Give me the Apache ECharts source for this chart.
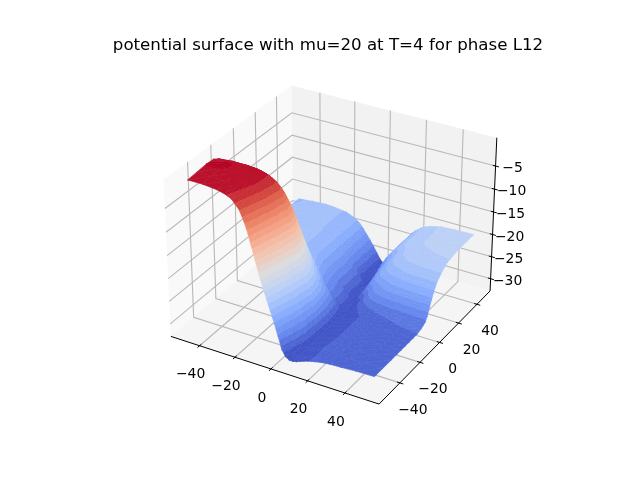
<!DOCTYPE html>
<html><head><meta charset="utf-8">
<style>html,body{margin:0;padding:0;background:#fff}#c{width:640px;height:480px}</style>
<script src="https://cdn.jsdelivr.net/npm/echarts@6/dist/echarts.min.js"></script>
</head><body><div id="c"></div>
<script>
const titleText = 'potential surface with mu=20 at T=4 for phase L12';
const xTicks = [-40,-20,0,20,40];
const yTicks = [-40,-20,0,20,40];
const zTicks = [-30,-25,-20,-15,-10,-5];
const xLim = [-56.5,58], yLim = [-60,54.6], zLim = [-32.8,1.05];
const xValues = [-50,-42,-34,-30,-28,-26,-24,-22,-20,-18,-16,-14,-12,-10,-8,-6,-4,-2,0,2,4,6,8,10,12,14,16,18,22,26,32,40,50];
const yValues = [-50,-42,-34,-28,-24,-20,-16,-12,-8,-4,-2,0,2,4,6,8,10,12,14,16,18,20,22,26,30,36,42,50];
const zRows = [
[-.2,-.2,-.5,-.9,-1.2,-1.6,-2.5,-3.4,-5.1,-7.2,-10,-12.9,-15.8,-18.4,-20.8,-23.1,-25.5,-28.1,-30.8,-32.1,-32.6,-32.6,-32.4,-32.1,-31.8,-31.5,-31.3,-31.1,-30.8,-30.6,-30.5,-30.3,-30.2],
[0,0,-.3,-.5,-.7,-1,-1.5,-2.3,-3.2,-4.9,-7,-9.8,-12.7,-15.7,-18.3,-20.8,-23.1,-25.5,-28,-30.8,-32.1,-32.6,-32.4,-32.1,-31.8,-31.5,-31.3,-31.1,-30.8,-30.6,-30.5,-30.3,-30.2],
[.2,.2,0,-.1,-.3,-.5,-.8,-1.2,-2.1,-3,-4.7,-6.9,-9.7,-12.6,-15.6,-18.2,-20.7,-23,-25.5,-28,-30.8,-32.6,-32.4,-32.1,-31.8,-31.5,-31.3,-31.1,-30.8,-30.6,-30.5,-30.3,-30.2],
[.1,.2,.1,-.1,-.2,-.4,-.7,-1.1,-1.7,-2.6,-4,-5.9,-8.5,-11.3,-14.2,-17,-19.5,-22.1,-24.6,-27.4,-31,-32.4,-32.5,-32.2,-31.9,-31.6,-31.4,-31.2,-30.8,-30.6,-30.5,-30.3,-30.2],
[-.5,-.2,-.2,-.3,-.4,-.6,-.8,-1.1,-1.5,-2.4,-3.3,-5,-7.1,-9.8,-12.8,-15.7,-18.3,-20.8,-23.1,-26.5,-30.2,-32.5,-32.5,-32.2,-31.9,-31.6,-31.4,-31.2,-30.8,-30.6,-30.5,-30.3,-30.2],
[-1.5,-1.4,-1.3,-1.5,-1.6,-1.8,-2.1,-2.5,-3,-3.7,-4.7,-6.2,-8.2,-10.9,-13.7,-16.5,-19,-21.3,-23.5,-27,-30.3,-32.4,-32.5,-32.2,-31.9,-31.6,-31.4,-31.2,-30.8,-30.6,-30.5,-30.3,-30.2],
[-4.4,-4.3,-4.3,-4.5,-4.6,-4.8,-5,-5.3,-5.6,-6.4,-7.3,-8.7,-10.4,-12.9,-15.4,-18,-20.2,-22.3,-24.3,-27.5,-30.4,-32.4,-32.5,-32.2,-31.9,-31.6,-31.4,-31.2,-30.8,-30.6,-30.5,-30.3,-30.2],
[-8.7,-8.7,-8.7,-8.9,-9,-9.1,-9.2,-9.5,-9.7,-10.4,-11.1,-12.3,-13.9,-15.9,-18.1,-20.2,-22.1,-23.9,-25.6,-28.2,-30.6,-32.4,-32.5,-32.2,-31.9,-31.6,-31.4,-31.2,-30.8,-30.6,-30.5,-30.3,-30.2],
[-13,-13,-13,-13.1,-13.2,-13.3,-13.4,-13.6,-13.9,-14.4,-15,-16,-17.3,-18.9,-20.6,-22.4,-24,-25.5,-26.9,-29,-31,-32.5,-32.5,-32.2,-31.9,-31.6,-31.4,-31.2,-30.8,-30.6,-30.5,-30.3,-30.2],
[-16.9,-16.9,-16.9,-17,-17.1,-17.2,-17.3,-17.4,-17.7,-18.1,-18.5,-19.3,-20.3,-21.7,-23,-24.4,-25.9,-27.1,-28.4,-29.6,-31.4,-32.5,-32.5,-32.2,-31.9,-31.6,-31.4,-31.1,-30.6,-30.4,-30.2,-30,-29.9],
[-18.3,-18.3,-18.3,-18.4,-18.5,-18.6,-18.7,-18.9,-19.1,-19.5,-20.1,-21,-22.2,-23.3,-24.6,-25.9,-27.2,-28.3,-29.6,-30.7,-31.7,-32.4,-32.5,-32.1,-31.8,-31.5,-31.2,-31,-30.4,-30.2,-30,-29.8,-29.6],
[-19.7,-19.7,-19.7,-19.8,-19.9,-20,-20.2,-20.3,-20.6,-21,-21.6,-22.5,-23.5,-24.7,-25.9,-27,-28.2,-29.2,-30.2,-31.3,-32.1,-32.6,-32.3,-32,-31.6,-31.2,-30.8,-30.5,-30.1,-29.8,-29.6,-29.4,-29.3],
[-20.7,-20.7,-20.7,-20.8,-20.9,-21,-21.1,-21.3,-21.5,-21.9,-22.5,-23.2,-24.3,-25.4,-26.4,-27.4,-28.3,-29.1,-30.1,-31,-31.9,-32.6,-32.2,-31.8,-31.3,-30.7,-30.3,-29.9,-29.3,-29,-28.7,-28.5,-28.4],
[-21.3,-21.3,-21.3,-21.4,-21.5,-21.5,-21.7,-21.8,-22.1,-22.5,-23.1,-23.7,-24.7,-25.7,-26.8,-27.7,-28.5,-29.3,-30.1,-31,-31.9,-32.6,-32.1,-31.5,-30.8,-30.2,-29.5,-29,-28.2,-27.7,-27.3,-27,-26.9],
[-21.8,-21.8,-21.8,-21.9,-22,-22,-22.1,-22.3,-22.6,-22.9,-23.4,-24.1,-25.1,-26,-27,-27.9,-28.7,-29.5,-30.2,-31.1,-32,-32.6,-31.9,-31.2,-30.3,-29.5,-28.8,-28.2,-27.1,-26.5,-26,-25.7,-25.6],
[-22,-22,-22,-22.1,-22.2,-22.2,-22.3,-22.5,-22.8,-23.1,-23.7,-24.4,-25.3,-26.2,-27.2,-28.1,-28.8,-29.6,-30.3,-31.2,-32,-32.6,-31.8,-31,-30,-29,-28.1,-27.4,-26.3,-25.5,-24.9,-24.5,-24.4],
[-22.3,-22.3,-22.3,-22.4,-22.5,-22.5,-22.6,-22.8,-23,-23.4,-23.9,-24.6,-25.5,-26.4,-27.3,-28.2,-28.9,-29.6,-30.4,-31.2,-32,-32.6,-31.7,-30.8,-29.7,-28.6,-27.6,-26.8,-25.5,-24.6,-23.9,-23.5,-23.4],
[-22.5,-22.5,-22.5,-22.6,-22.7,-22.7,-22.8,-23,-23.2,-23.6,-24.1,-24.8,-25.7,-26.5,-27.4,-28.4,-29.3,-30.2,-31.1,-32,-32.6,-31.7,-30.6,-29.5,-28.3,-27.2,-26.2,-25.5,-24.3,-23.6,-23,-22.7,-22.6],
[-22.5,-22.5,-22.5,-22.6,-22.7,-22.7,-22.8,-23,-23.2,-23.6,-24.1,-24.8,-25.7,-26.5,-27.4,-28.4,-29.3,-30.2,-31.1,-32,-32.6,-31.7,-30.5,-29.3,-28.1,-26.8,-25.9,-25.1,-23.8,-23,-22.5,-22.2,-22.1],
[-22.5,-22.5,-22.5,-22.6,-22.7,-22.7,-22.8,-23,-23.2,-23.6,-24.1,-24.8,-25.7,-26.5,-27.4,-28.4,-29.3,-30.2,-31.1,-32,-32.6,-31.6,-30.4,-29.1,-27.8,-26.5,-25.6,-24.7,-23.4,-22.6,-22,-21.7,-21.6],
[-22.5,-22.5,-22.5,-22.6,-22.7,-22.7,-22.8,-23,-23.2,-23.6,-24.1,-24.8,-25.7,-26.5,-27.4,-28.4,-29.3,-30.2,-31.1,-32,-32.6,-31.6,-30.4,-29,-27.6,-26.3,-25.3,-24.4,-22.9,-22.2,-21.5,-21.2,-21.2],
[-22.5,-22.5,-22.5,-22.6,-22.7,-22.7,-22.8,-23,-23.2,-23.6,-24.1,-24.8,-25.7,-26.5,-27.4,-28.4,-29.3,-30.2,-31.1,-32,-32.6,-31.5,-30.3,-28.9,-27.5,-26.1,-25.1,-24.1,-22.7,-21.9,-21.2,-21,-20.9],
[-22.5,-22.5,-22.5,-22.6,-22.7,-22.7,-22.8,-23,-23.2,-23.6,-24.1,-24.8,-25.7,-26.5,-27.4,-28.4,-29.3,-30.2,-31.1,-32,-32.6,-31.5,-30.3,-28.8,-27.4,-25.9,-24.9,-23.9,-22.4,-21.6,-21,-20.7,-20.6],
[-22.5,-22.5,-22.5,-22.6,-22.7,-22.7,-22.8,-23,-23.2,-23.6,-24.1,-24.8,-25.7,-26.5,-27.4,-28.4,-29.3,-30.2,-31.1,-32,-32.6,-31.5,-30.2,-28.7,-27.3,-25.8,-24.8,-23.8,-22.2,-21.4,-20.8,-20.5,-20.4],
[-22.7,-22.6,-22.5,-22.6,-22.7,-22.8,-22.9,-23,-23.3,-23.7,-24.1,-24.7,-25.7,-26.8,-27.9,-29.1,-30.4,-31.7,-32.4,-32.6,-31.4,-30.2,-28.6,-27.2,-25.8,-24.7,-23.6,-22.8,-21.7,-21.1,-20.5,-20.3,-20.2],
[-22.8,-22.6,-22.5,-22.6,-22.7,-22.8,-22.9,-23,-23.3,-23.7,-24.1,-24.7,-25.7,-26.8,-27.9,-29.1,-30.4,-31.7,-32.4,-32.6,-31.4,-30.2,-28.6,-27.1,-25.7,-24.6,-23.6,-22.8,-21.6,-21,-20.4,-20.2,-20.1],
[-22.9,-22.7,-22.5,-22.6,-22.7,-22.8,-22.9,-23,-23.3,-23.7,-24.1,-24.7,-25.7,-26.8,-27.9,-29.1,-30.4,-31.7,-32.4,-32.6,-31.4,-30.2,-28.6,-27.1,-25.7,-24.6,-23.6,-22.8,-21.6,-21,-20.4,-20.2,-20.1],
[-23,-22.7,-22.5,-22.6,-22.7,-22.8,-22.9,-23,-23.3,-23.7,-24.1,-24.7,-25.7,-26.8,-27.9,-29.1,-30.4,-31.7,-32.4,-32.6,-31.4,-30.1,-28.5,-27,-25.6,-24.5,-23.5,-22.7,-21.5,-20.9,-20.3,-20.1,-20]
];
const coolwarm = ['#3b4cc0','#6687ed','#8db0fe','#b9d0f9','#dddcdc','#f5c1a9','#f4987a','#dd604c','#b40426'];
const bandStep = 0.037;

const DEG = Math.PI/180, el = 30*DEG, az = -60*DEG, DIST = 10;
const box = [1.142857,1.142857,0.857143];
const W = [Math.cos(el)*Math.cos(az), Math.cos(el)*Math.sin(az), Math.sin(el)];
const U = [-Math.sin(az), Math.cos(az), 0];
const V = [W[1]*U[2]-W[2]*U[1], W[2]*U[0]-W[0]*U[2], W[0]*U[1]-W[1]*U[0]];
function proj(x,y,z){
  const p=[((x-xLim[0])/(xLim[1]-xLim[0])-.5)*box[0],((y-yLim[0])/(yLim[1]-yLim[0])-.5)*box[1],((z-zLim[0])/(zLim[1]-zLim[0])-.5)*box[2]];
  const d=p[0]*W[0]+p[1]*W[1]+p[2]*W[2];
  const D=DIST-d;
  return [(p[0]*U[0]+p[1]*U[1])/D,(p[0]*V[0]+p[1]*V[1]+p[2]*V[2])/D,d];
}
const [x0,x1]=xLim,[y0,y1]=yLim,[z0,z1]=zLim;
function pts(api,list){return list.map(q=>{const r=proj(q[0],q[1],q[2]);return api.coord([r[0],r[1]]);});}

const panes=[
 {fill:'#f9f9f9',c:[[x0,y0,z0],[x0,y1,z0],[x0,y1,z1],[x0,y0,z1]]},
 {fill:'#f2f2f2',c:[[x0,y1,z0],[x1,y1,z0],[x1,y1,z1],[x0,y1,z1]]},
 {fill:'#f5f5f5',c:[[x0,y0,z0],[x1,y0,z0],[x1,y1,z0],[x0,y1,z0]]}
];
const gridPaths=[];
xTicks.forEach(t=>gridPaths.push([[t,y0,z0],[t,y1,z0],[t,y1,z1]]));
yTicks.forEach(t=>gridPaths.push([[x1,t,z0],[x0,t,z0],[x0,t,z1]]));
zTicks.forEach(t=>gridPaths.push([[x0,y0,t],[x0,y1,t],[x1,y1,t]]));
const axisPaths=[[[x0,y0,z0],[x1,y0,z0]],[[x1,y0,z0],[x1,y1,z0]],[[x1,y1,z0],[x1,y1,z1]]];
xTicks.forEach(t=>axisPaths.push([[t,y0+1.5,z0],[t,y0-1.8,z0]]));
yTicks.forEach(t=>axisPaths.push([[x1-1.5,t,z0],[x1+1.8,t,z0]]));
zTicks.forEach(t=>axisPaths.push([[x1-1.5,y1,t],[x1+1.8,y1,t]]));
const fmt=v=>String(v).replace('-','\u2212');
const labels=[];
xTicks.forEach(t=>labels.push({p:[t,y0,z0],o:[-9,29],s:fmt(t)}));
yTicks.forEach(t=>labels.push({p:[x1,t,z0],o:[13,27],s:fmt(t)}));
zTicks.forEach(t=>labels.push({p:[x1,y1,t],o:[17,2.5],s:fmt(t)}));

let zMin=Infinity,zMax=-Infinity;
zRows.forEach(r=>r.forEach(v=>{zMin=Math.min(zMin,v);zMax=Math.max(zMax,v);}));
function cmap(t){ return echarts.color.lerp(Math.max(0,Math.min(1,t)),coolwarm); }
const tris=[];
function addTri(a,b,c){
  const v=[a,b,c].map(k=>[xValues[k[0]],yValues[k[1]],zRows[k[1]][k[0]]]);
  const xm=(v[0][0]+v[1][0]+v[2][0])/3,ym=(v[0][1]+v[1][1]+v[2][1])/3,zm=(v[0][2]+v[1][2]+v[2][2])/3;
  tris.push({v,d:proj(xm,ym,zm)[2]});
}
for(let j=0;j<yValues.length-1;j++)for(let i=0;i<xValues.length-1;i++){
  addTri([i,j],[i+1,j],[i+1,j+1]);
  addTri([i,j],[i+1,j+1],[i,j+1]);
}
tris.sort((a,b)=>a.d-b.d);
const band=k=>cmap((k+.5)*bandStep);
function triPaint(P,T){
  const tmin=Math.min(T[0],T[1],T[2]),tmax=Math.max(T[0],T[1],T[2]);
  const k0=Math.floor(tmin/bandStep),k1=Math.floor(tmax/bandStep);
  const ux=P[1][0]-P[0][0],uy=P[1][1]-P[0][1],vx=P[2][0]-P[0][0],vy=P[2][1]-P[0][1];
  const det=ux*vy-uy*vx;
  if(k0===k1) return band(k0);
  if(Math.abs(det)<0.05) return cmap((T[0]+T[1]+T[2])/3);
  const du=T[1]-T[0],dv=T[2]-T[0];
  const a=(du*vy-dv*uy)/det,b=(dv*ux-du*vx)/det,g=a*a+b*b;
  const sx=P[0][0]+(tmin-T[0])*a/g,sy=P[0][1]+(tmin-T[0])*b/g;
  const ex=P[0][0]+(tmax-T[0])*a/g,ey=P[0][1]+(tmax-T[0])*b/g;
  const r=tmax-tmin,stops=[];
  for(let k=k0;k<=k1;k++){
    const s=Math.max(0,(k*bandStep-tmin)/r),e=Math.min(1,((k+1)*bandStep-tmin)/r),c=band(k);
    stops.push({offset:s,color:c},{offset:e,color:c});
  }
  return new echarts.graphic.LinearGradient(sx,sy,ex,ey,stops,true);
}

const chart=echarts.init(document.getElementById('c'),null,{renderer:'canvas'});
const base={type:'custom',coordinateSystem:'cartesian2d',silent:true,clip:false,animation:false,progressive:0};
const idx=n=>Array.from({length:n},(_,k)=>[k,0]);
chart.setOption({
 animation:false,backgroundColor:'#ffffff',
 title:{text:titleText,left:323,top:32.5,textAlign:'center',textStyle:{fontFamily:'DejaVu Sans',fontSize:16.67,fontWeight:'normal',color:'#000'}},
 grid:{left:143.2,top:57.6,width:369.6,height:369.6},
 xAxis:{type:'value',min:-0.09104,max:0.08597,show:false},
 yAxis:{type:'value',min:-0.0909,max:0.0861,show:false},
 series:[
  Object.assign({},base,{name:'panes',data:idx(panes.length),z:1,renderItem:(p,api)=>{const a=panes[api.value(0)];
    return {type:'polygon',shape:{points:pts(api,a.c)},style:{fill:a.fill}};}}),
  Object.assign({},base,{name:'grid',data:idx(gridPaths.length),z:2,renderItem:(p,api)=>({type:'polyline',shape:{points:pts(api,gridPaths[api.value(0)])},style:{stroke:'#b8b8b8',lineWidth:1.1,fill:null}})}),
  Object.assign({},base,{name:'axes',data:idx(axisPaths.length),z:3,renderItem:(p,api)=>({type:'polyline',shape:{points:pts(api,axisPaths[api.value(0)])},style:{stroke:'#000',lineWidth:1,fill:null}})}),
  Object.assign({},base,{name:'surface',data:idx(tris.length),z:4,renderItem:(p,api)=>{const c=tris[api.value(0)];
    const P=pts(api,c.v);const T=c.v.map(q=>(q[2]-zMin)/(zMax-zMin));const f=triPaint(P,T);
    return {type:'polygon',shape:{points:P},style:{fill:f,stroke:f,lineWidth:.6}};}}),
  Object.assign({},base,{name:'labels',data:idx(labels.length),z:5,renderItem:(p,api)=>{const l=labels[api.value(0)];const c=pts(api,[l.p])[0];
    return {type:'text',x:c[0]+l.o[0],y:c[1]+l.o[1],style:{text:l.s,fill:'#000',font:'13.9px "DejaVu Sans"',align:'center',verticalAlign:'middle',textAlign:'center',textVerticalAlign:'middle'}};}})
 ]
});
</script></body></html>
